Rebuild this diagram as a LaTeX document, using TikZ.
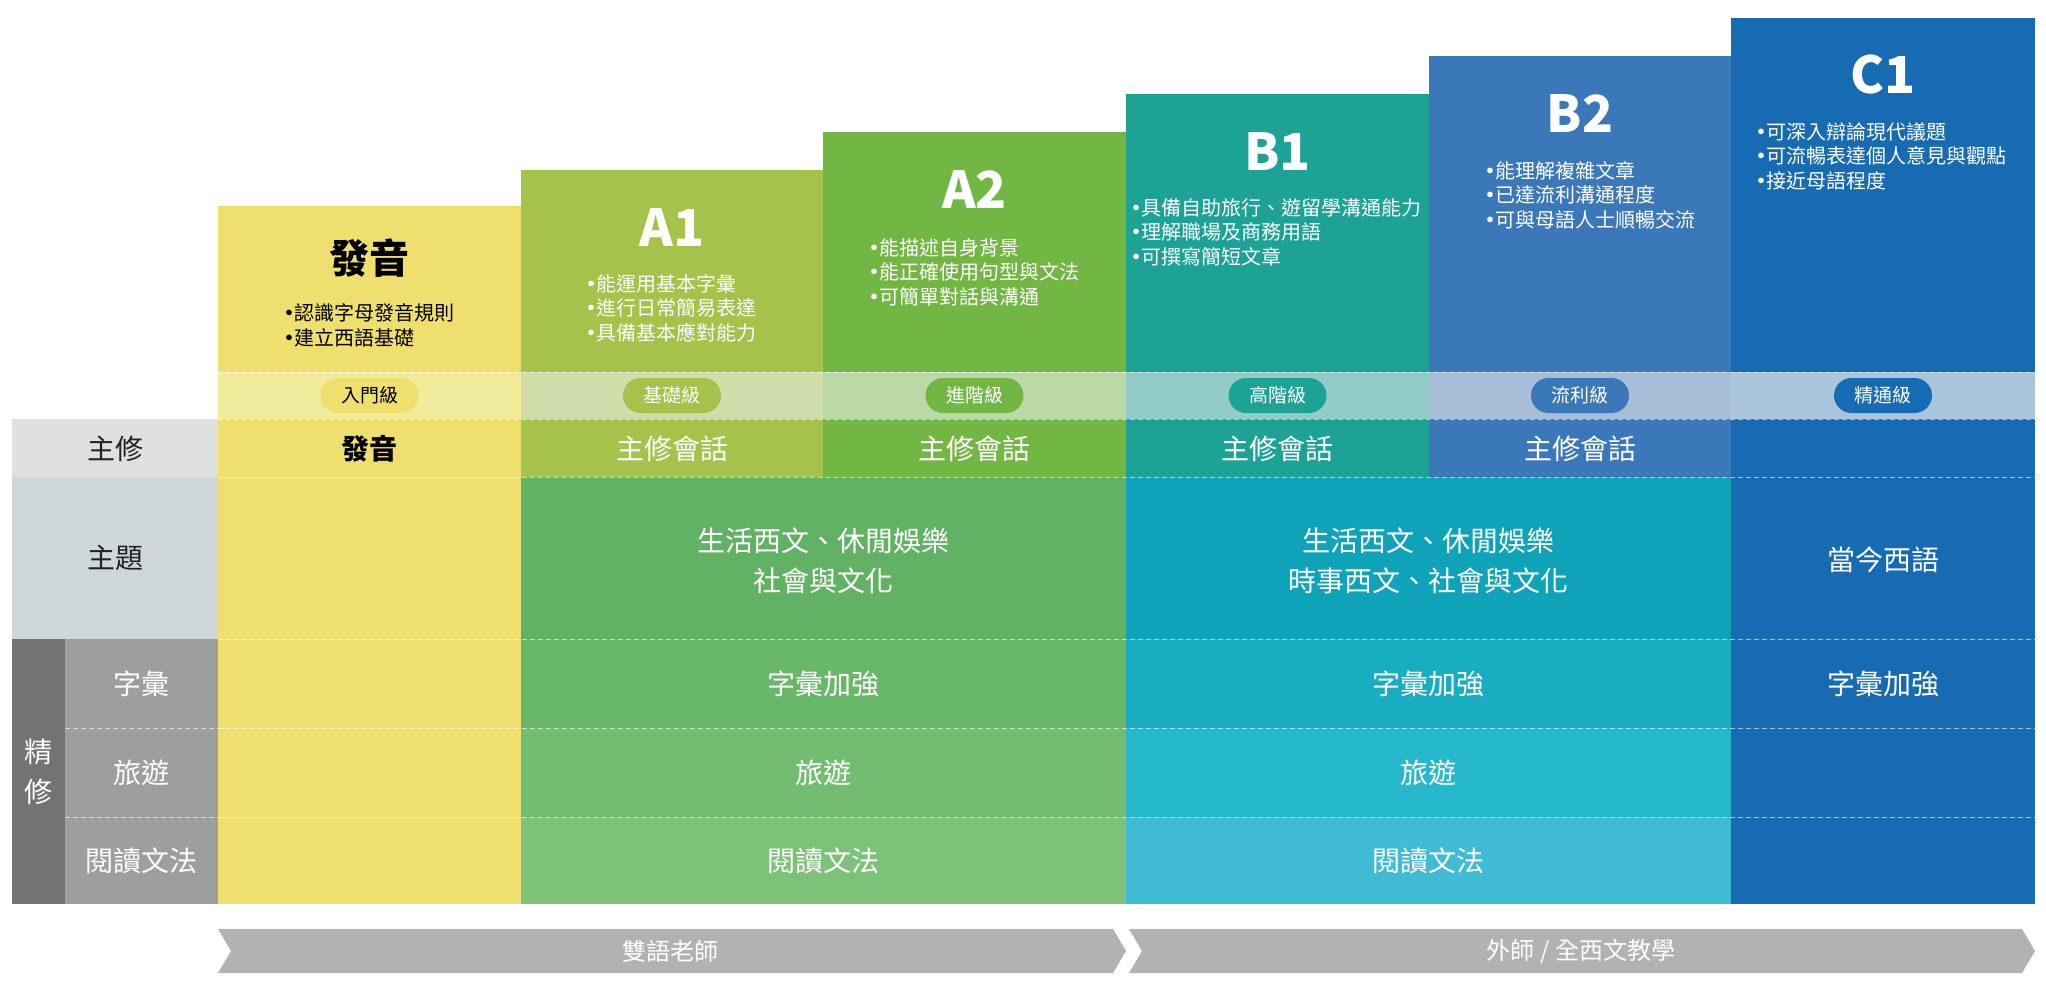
\documentclass[tikz,border=0pt]{standalone}
\usepackage{fontspec}
\setmainfont{Noto Sans CJK TC}
\definecolor{yel}{HTML}{EEDF6E}
\definecolor{ca}{HTML}{A5C24A}
\definecolor{cb}{HTML}{72B744}
\definecolor{cc}{HTML}{1DA396}
\definecolor{cd}{HTML}{3B78B9}
\definecolor{ce}{HTML}{176BB2}
\definecolor{yelband}{HTML}{F1EC9C}
\definecolor{caband}{HTML}{D0DCAA}
\definecolor{cbband}{HTML}{BBD8A7}
\definecolor{ccband}{HTML}{93CCC7}
\definecolor{cdband}{HTML}{A6BCD7}
\definecolor{ceband}{HTML}{A8C5DD}
\definecolor{gA}{HTML}{62B265}
\definecolor{gB}{HTML}{69B86A}
\definecolor{gC}{HTML}{73BD73}
\definecolor{gD}{HTML}{7EC27A}
\definecolor{tA}{HTML}{0EA3B8}
\definecolor{tB}{HTML}{18ADC1}
\definecolor{tC}{HTML}{26B8CB}
\definecolor{tD}{HTML}{3FBCD3}
\definecolor{lblA}{HTML}{E0E0DF}
\definecolor{lblB}{HTML}{CFD7DA}
\definecolor{lblDark}{HTML}{737373}
\definecolor{lblSub}{HTML}{9E9E9E}
\definecolor{arrowgray}{HTML}{B2B2B2}
\definecolor{darktext}{HTML}{222222}
\newcommand{\bul}{\makebox[0.5em][c]{\bfseries •}}
\begin{document}
\begin{tikzpicture}[x=1pt,y=-1pt,
  leveltitle/.style={font=\fontsize{51}{60}\selectfont\bfseries, text=white, inner sep=0},
  bullets/.style={font=\fontsize{20}{24.5}\selectfont, align=left, anchor=west, inner sep=0, text=white},
  pill/.style={fill=#1, rounded corners=17.5pt, minimum width=98pt, minimum height=35pt, inner sep=0, font=\fontsize{19}{19}\selectfont, text=white},
  rowtxt/.style={font=\fontsize{28}{40}\selectfont, text=white, align=center, inner sep=0},
  lbltxt/.style={font=\fontsize{28}{38}\selectfont, text=darktext, align=center, inner sep=0},
  dashline/.style={white, opacity=0.6, line width=1pt, dash pattern=on 5pt off 3pt},
  arrowtxt/.style={font=\fontsize{24}{24}\selectfont, text=white, inner sep=0}]
\useasboundingbox (0,0) rectangle (2046,986);

% columns (top parts)
\fill[yel] (218,206) rectangle (521,904);
\fill[ca] (521,170) rectangle (823,477);
\fill[cb] (823,132) rectangle (1126,477);
\fill[cc] (1126,94) rectangle (1429,477);
\fill[cd] (1429,56) rectangle (1731,477);
\fill[ce] (1731,18) rectangle (2035,904);

% level band
\fill[yelband] (218,372) rectangle (521,419);
\fill[caband] (521,372) rectangle (823,419);
\fill[cbband] (823,372) rectangle (1126,419);
\fill[ccband] (1126,372) rectangle (1429,419);
\fill[cdband] (1429,372) rectangle (1731,419);
\fill[ceband] (1731,372) rectangle (2035,419);

% lower rows
\fill[gA] (521,477) rectangle (1126,639);
\fill[gB] (521,639) rectangle (1126,728);
\fill[gC] (521,728) rectangle (1126,817);
\fill[gD] (521,817) rectangle (1126,904);
\fill[tA] (1126,477) rectangle (1731,639);
\fill[tB] (1126,639) rectangle (1731,728);
\fill[tC] (1126,728) rectangle (1731,817);
\fill[tD] (1126,817) rectangle (1731,904);

% label column
\fill[lblA] (12,419) rectangle (218,477);
\fill[lblB] (12,477) rectangle (218,639);
\fill[lblDark] (12,639) rectangle (65,904);
\fill[lblSub] (65,639) rectangle (218,904);

% dashed separators
\foreach \yy in {372,419,477,639,728,817}
  \draw[dashline] (218,\yy) -- (2035,\yy);
\foreach \yy in {728,817}
  \draw[dashline] (65,\yy) -- (218,\yy);

% titles
\node[leveltitle, text=black, font=\fontsize{40}{48}\selectfont\bfseries] (t0) at (369.5,258) {發音};
\node[leveltitle] (t1) at (672,227) {A1};
\node[leveltitle] (t2) at (974.5,189) {A2};
\node[leveltitle] (t3) at (1277.5,151) {B1};
\node[leveltitle] (t4) at (1580,113) {B2};
\node[leveltitle] (t5) at (1883,75) {C1};

% bullets
\node[bullets, text=black] (b0) at (284,325.5) {\bul 認識字母發音規則\\\bul 建立西語基礎};
\node[bullets] (b1) at (586,308) {\bul 能運用基本字彙\\\bul 進行日常簡易表達\\\bul 具備基本應對能力};
\node[bullets] (b2) at (869,272) {\bul 能描述自身背景\\\bul 能正確使用句型與文法\\\bul 可簡單對話與溝通};
\node[bullets] (b3) at (1131,232) {\bul 具備自助旅行、遊留學溝通能力\\\bul 理解職場及商務用語\\\bul 可撰寫簡短文章};
\node[bullets] (b4) at (1485,195) {\bul 能理解複雜文章\\\bul 已達流利溝通程度\\\bul 可與母語人士順暢交流};
\node[bullets] (b5) at (1756,156) {\bul 可深入辯論現代議題\\\bul 可流暢表達個人意見與觀點\\\bul 接近母語程度};

% pills
\node[pill=yel, text=black] (p0) at (369.5,395.5) {入門級};
\node[pill=ca] (p1) at (672,395.5) {基礎級};
\node[pill=cb] (p2) at (974.5,395.5) {進階級};
\node[pill=cc] (p3) at (1277.5,395.5) {高階級};
\node[pill=cd] (p4) at (1580,395.5) {流利級};
\node[pill=ce] (p5) at (1883,395.5) {精通級};

% row labels
\node[lbltxt] (lmaj) at (115,449) {主修};
\node[lbltxt] (ltheme) at (115,558) {主題};
\node[rowtxt] (lref) at (38.5,772) {精\\修};
\node[rowtxt] (lvoc) at (141.5,684) {字彙};
\node[rowtxt] (ltrav) at (141.5,773) {旅遊};
\node[rowtxt] (lread) at (141.5,861) {閱讀文法};

% row contents
\node[rowtxt, text=black, font=\fontsize{28}{40}\selectfont\bfseries] (m0) at (369.5,449) {發音};
\node[rowtxt] (m1) at (672,449) {主修會話};
\node[rowtxt] (m2) at (974.5,449) {主修會話};
\node[rowtxt] (m3) at (1277.5,449) {主修會話};
\node[rowtxt] (m4) at (1580,449) {主修會話};
\node[rowtxt] (th1) at (823.5,561) {生活西文、休閒娛樂\\社會與文化};
\node[rowtxt] (th2) at (1428.5,561) {生活西文、休閒娛樂\\時事西文、社會與文化};
\node[rowtxt] (th3) at (1883,560) {當今西語};
\node[rowtxt] (v1) at (823.5,684) {字彙加強};
\node[rowtxt] (v2) at (1428.5,684) {字彙加強};
\node[rowtxt] (v3) at (1883,684) {字彙加強};
\node[rowtxt] (tr1) at (823.5,773) {旅遊};
\node[rowtxt] (tr2) at (1428.5,773) {旅遊};
\node[rowtxt] (r1) at (823.5,861) {閱讀文法};
\node[rowtxt] (r2) at (1428.5,861) {閱讀文法};

% bottom arrows
\fill[arrowgray] (218,929) -- (1113,929) -- (1126,951) -- (1113,973) -- (218,973) -- (231,951) -- cycle;
\fill[arrowgray] (1129,929) -- (2022,929) -- (2035,951) -- (2022,973) -- (1129,973) -- (1142,951) -- cycle;
\node[arrowtxt] (a1) at (670,951) {雙語老師};
\node[arrowtxt] (a2) at (1581,951) {外師 / 全西文教學};
\end{tikzpicture}
\end{document}
